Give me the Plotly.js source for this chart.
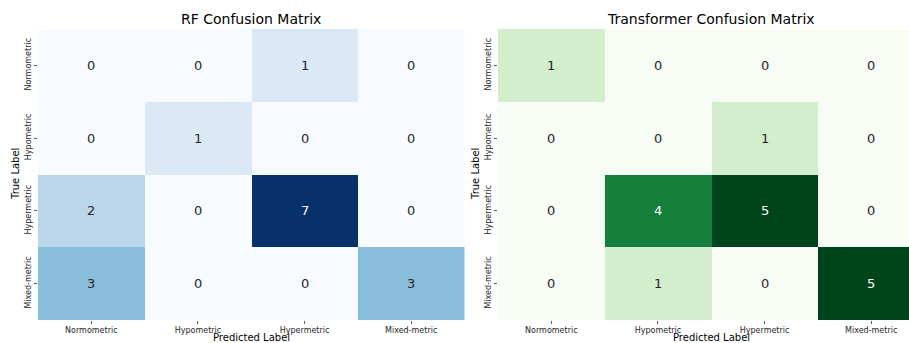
<!DOCTYPE html>
<html><head><meta charset="utf-8">
<script src="https://cdn.plot.ly/plotly-3.0.1.min.js"></script>
<style>html,body{margin:0;padding:0;overflow:hidden;background:#fff}</style>
</head><body><div id="chart"></div>
<script>
const labels = ["Normometric", "Hypometric", "Hypermetric", "Mixed-metric"];
const rfValues = [
  [0, 0, 1, 0],
  [0, 1, 0, 0],
  [2, 0, 7, 0],
  [3, 0, 0, 3]
];
const trValues = [
  [1, 0, 0, 0],
  [0, 0, 1, 0],
  [0, 4, 5, 0],
  [0, 1, 0, 5]
];
const rfTitle = "RF Confusion Matrix";
const trTitle = "Transformer Confusion Matrix";

const blues = ["#f7fbff","#deebf7","#c6dbef","#9ecae1","#6baed6","#4292c6","#2171b5","#08519c","#08306b"];
const greens = ["#f7fcf5","#e5f5e0","#c7e9c0","#a1d99b","#74c476","#41ab5d","#238b45","#006d2c","#00441b"];
const toScale = c => c.map((col, i) => [i / (c.length - 1), col]);

const W = 940, H = 356;
const px = v => v / W, py = v => 1 - v / H;
const dom1 = [px(38), px(464.5)], dom2 = [px(498), px(924.5)];
const ydom = [py(320), py(29)];

function hm(z, scale, xa, ya) {
  const mx = Math.max(...z.flat());
  return {type: "heatmap", z: z, x: labels, y: labels, xaxis: xa, yaxis: ya,
    colorscale: toScale(scale), zmin: 0, zmax: mx, showscale: false, hoverinfo: "skip"};
}
const font = "DejaVu Sans, sans-serif";
const annotations = [];
function cellText(z, xa, ya) {
  const mx = Math.max(...z.flat());
  z.forEach((row, i) => row.forEach((v, j) => {
    annotations.push({x: labels[j], y: labels[i], xref: xa, yref: ya, text: String(v),
      showarrow: false, font: {family: font, size: 13, color: v / mx > 0.55 ? "#ffffff" : "#262626"}});
  }));
}
cellText(rfValues, "x", "y");
cellText(trValues, "x2", "y2");
function txt(x, y, t, size, angle) {
  annotations.push({x: x, y: y, xref: "paper", yref: "paper", text: t, showarrow: false,
    xanchor: "center", yanchor: "middle", textangle: angle || 0, font: {family: font, size: size, color: "#000"}});
}
txt((dom1[0] + dom1[1]) / 2, py(19), rfTitle, 14);
txt((dom2[0] + dom2[1]) / 2, py(19), trTitle, 14);
txt((dom1[0] + dom1[1]) / 2, py(337.5), "Predicted Label", 10);
txt((dom2[0] + dom2[1]) / 2, py(337.5), "Predicted Label", 10);
txt(px(15.5), (ydom[0] + ydom[1]) / 2, "True Label", 10, -90);
txt(px(475.5), (ydom[0] + ydom[1]) / 2, "True Label", 10, -90);

const axBase = {showgrid: false, zeroline: false, showline: false, ticks: "outside", ticklen: 3,
  tickwidth: 0.8, tickcolor: "#333", tickfont: {family: font, size: 8, color: "#262626"}, fixedrange: true,
  type: "category"};
const layout = {
  width: W, height: H, margin: {l: 0, r: 0, t: 0, b: 0},
  paper_bgcolor: "#fff", plot_bgcolor: "#fff",
  xaxis: Object.assign({}, axBase, {domain: dom1, anchor: "y", ticklabelstandoff: -1}),
  yaxis: Object.assign({}, axBase, {domain: ydom, anchor: "x", autorange: "reversed", tickangle: -90}),
  xaxis2: Object.assign({}, axBase, {domain: dom2, anchor: "y2", ticklabelstandoff: -1}),
  yaxis2: Object.assign({}, axBase, {domain: ydom, anchor: "x2", autorange: "reversed", tickangle: -90}),
  annotations: annotations, showlegend: false
};
Plotly.newPlot("chart", [hm(rfValues, blues, "x", "y"), hm(trValues, greens, "x2", "y2")], layout, {displayModeBar: false, staticPlot: true});
</script></body></html>
